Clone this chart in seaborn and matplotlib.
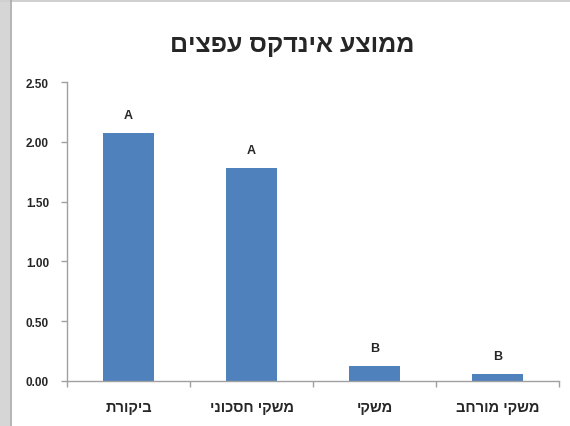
import matplotlib
matplotlib.use("Agg")
import matplotlib.pyplot as plt
from matplotlib.patches import Rectangle
from matplotlib.lines import Line2D
import seaborn as sns
import pandas as pd

title = "ממוצע אינדקס עפצים"
categories = ["ביקורת", "משקי חסכוני", "משקי", "משקי מורחב"]
values = [2.07, 1.78, 0.125, 0.055]
letters = ["A", "A", "B", "B"]
yticks = [0.0, 0.5, 1.0, 1.5, 2.0, 2.5]


def rtl(s):
    return s[::-1]


sns.set_style("white")
plt.rcParams["font.family"] = ["Liberation Sans", "DejaVu Sans"]

df = pd.DataFrame({"cat": [rtl(c) for c in categories], "val": values})

fig = plt.figure(figsize=(5.70, 4.27), dpi=100)
fig.patch.set_facecolor("white")
# window frame on the left / top
fig.patches.append(Rectangle((0, 0), 10 / 570, 1, transform=fig.transFigure,
                             facecolor="#D6D6D6", edgecolor="none", zorder=-1))
fig.lines.append(Line2D([11 / 570, 11 / 570], [0, 1], transform=fig.transFigure,
                        color="#A8A8A8", lw=1.2))
fig.patches.append(Rectangle((0, 1 - 3 / 427), 1, 3 / 427, transform=fig.transFigure,
                             facecolor="#D0D0D0", edgecolor="none", zorder=-1))

ax = fig.add_axes([67 / 570, 1 - 382 / 427, (559 - 67) / 570, (382 - 83) / 427])
sns.barplot(data=df, x="cat", y="val", color="#4F81BD", width=0.41,
            saturation=1, ax=ax, edgecolor="none")

ax.set_ylim(0, 2.5)
ax.set_xlim(-0.5, 3.5)
ax.set_yticks(yticks)
ax.set_yticklabels([f"{t:.2f}" for t in yticks], fontsize=8.5, fontweight="bold")
ax.set_xlabel("")
ax.set_ylabel("")

# category tick marks at boundaries, labels centered
ax.set_xticks([-0.5, 0.5, 1.5, 2.5, 3.5], minor=False)
ax.set_xticklabels([])
ax.set_xticks(range(len(categories)), minor=True)
ax.set_xticklabels(df["cat"], minor=True, fontsize=10.5, fontweight="bold")
ax.tick_params(axis="x", which="minor", bottom=False, length=0, pad=14)
ax.tick_params(axis="x", which="major", bottom=True, length=4, width=1,
               color="#A0A0A0", direction="out")
ax.tick_params(axis="y", left=True, length=4, width=1, color="#A0A0A0",
               direction="out", pad=9)

for side in ["top", "right"]:
    ax.spines[side].set_visible(False)
for side in ["left", "bottom"]:
    ax.spines[side].set_color("#A0A0A0")
    ax.spines[side].set_linewidth(1.0)

for i, (v, l) in enumerate(zip(values, letters)):
    ax.text(i, v + 0.1, l, ha="center", va="bottom", fontsize=9, fontweight="bold")

fig.text(292 / 570, 1 - 45 / 427, rtl(title), ha="center", va="center",
         fontsize=18, fontweight="bold")

fig.savefig("out.png", dpi=100)
